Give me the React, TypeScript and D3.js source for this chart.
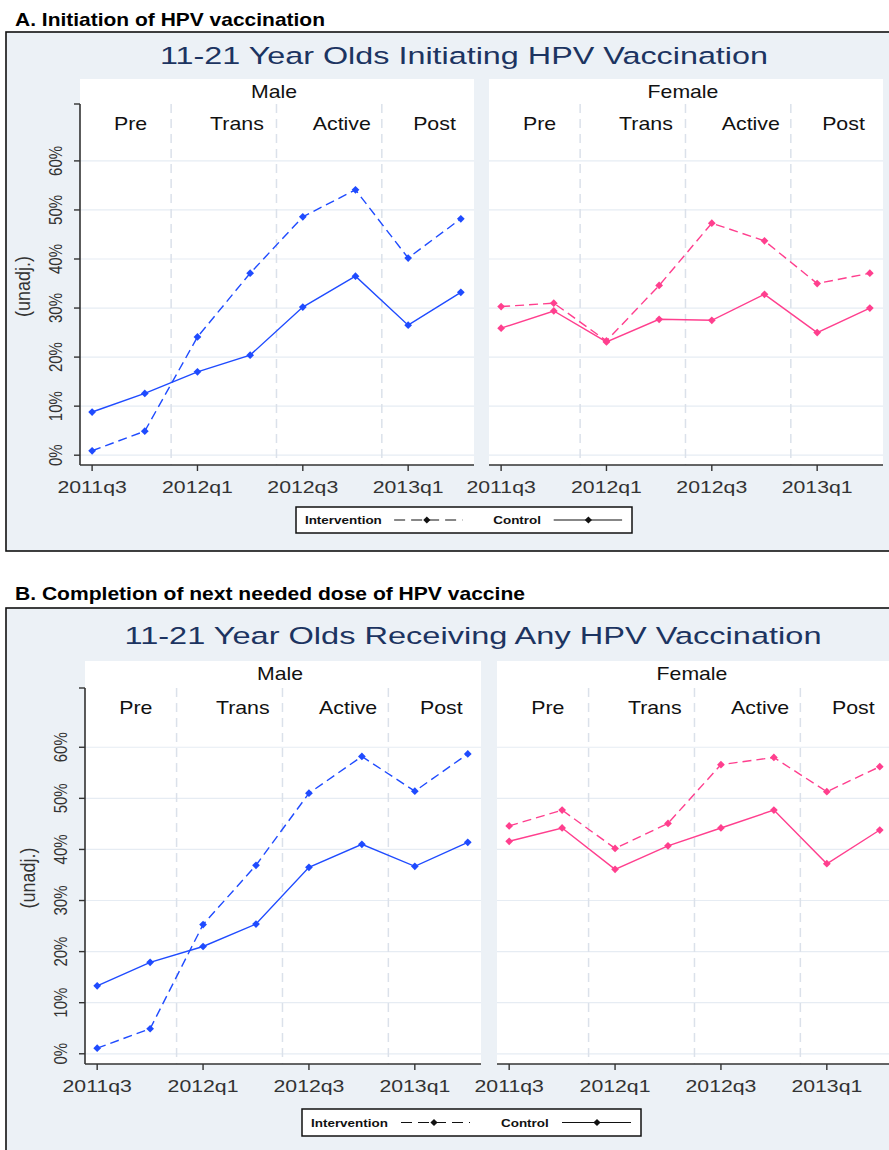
import React from "react";
import * as d3 from "d3";

// quarters on the x axis, only every second one is labelled
const quarters = ["2011q3", "2011q4", "2012q1", "2012q2", "2012q3", "2012q4", "2013q1", "2013q2"];
const tickQuarters = ["2011q3", "2012q1", "2012q3", "2013q1"];
const periods = ["Pre", "Trans", "Active", "Post"];
const periodLabelAt = [0.73, 2.75, 4.74, 6.5];
const periodBreaks = [1.5, 3.5, 5.5];
const yTicks = [0, 0.1, 0.2, 0.3, 0.4, 0.5, 0.6];

// A. initiation
const initMaleIntervention = [0.009, 0.049, 0.241, 0.371, 0.486, 0.541, 0.402, 0.482];
const initMaleControl = [0.088, 0.126, 0.170, 0.204, 0.302, 0.365, 0.265, 0.332];
const initFemaleIntervention = [0.303, 0.310, 0.233, 0.346, 0.473, 0.437, 0.350, 0.371];
const initFemaleControl = [0.259, 0.294, 0.231, 0.277, 0.275, 0.328, 0.250, 0.300];

// B. any dose
const anyMaleIntervention = [0.011, 0.049, 0.253, 0.369, 0.510, 0.582, 0.514, 0.587];
const anyMaleControl = [0.133, 0.179, 0.210, 0.254, 0.365, 0.410, 0.367, 0.414];
const anyFemaleIntervention = [0.446, 0.477, 0.402, 0.451, 0.566, 0.580, 0.513, 0.562];
const anyFemaleControl = [0.416, 0.442, 0.361, 0.407, 0.442, 0.477, 0.372, 0.438];

const FONT = "'Liberation Sans', Arial, sans-serif";
const BG = "#ecf1f6";
const GRID = "#e6ecf3";
const BLUE = "#1f4bff";
const PINK = "#ff3f8e";

// the source picture is stretched sideways, so text gets a horizontal scale
function Txt({ x, y, size, sx = 1.22, anchor = "middle", rot = 0, fill = "#111", weight = "normal", children }) {
  return (
    <text transform={`translate(${x},${y}) scale(${sx},1)${rot ? ` rotate(${rot})` : ""}`}
      textAnchor={anchor} fontSize={size} fontFamily={FONT} fontWeight={weight} fill={fill}>
      {children}
    </text>
  );
}

function Facet({ x0, x1, top, bottom, headTop, label, color, intervention, control, yAxis }) {
  const x = d3.scaleLinear().domain([-0.23, 7.25]).range([x0, x1]);
  const y = d3.scaleLinear().domain([-0.02, 0.716]).range([bottom, top]);
  const line = d3.line<number>().x((d, i) => x(i)).y(d => y(d));
  const diamond = d3.symbol(d3.symbolSquare, 30)();
  const series = [
    { values: intervention, dash: "9,5" },
    { values: control, dash: null },
  ];
  return (
    <g>
      <rect x={x0} y={headTop} width={x1 - x0} height={bottom - headTop} fill="#fff" />
      {yTicks.map(t => (
        <line key={t} x1={x0} x2={x1} y1={y(t)} y2={y(t)} stroke={GRID} strokeWidth={1.2} />
      ))}
      {periodBreaks.map(b => (
        <line key={b} x1={x(b)} x2={x(b)} y1={top} y2={bottom} stroke="#dbe1ea" strokeWidth={1.5} strokeDasharray="9,6" />
      ))}
      <Txt x={(x0 + x1) / 2 - 3} y={headTop + 19} size={18} sx={1.18}>{label}</Txt>
      {periods.map((p, i) => (
        <Txt key={p} x={x(periodLabelAt[i])} y={top + 26} size={17.5}>{p}</Txt>
      ))}
      {series.map((s, k) => (
        <g key={k}>
          <path d={line(s.values)} fill="none" stroke={color} strokeWidth={1.4} strokeDasharray={s.dash || undefined} />
          {s.values.map((v, i) => (
            <path key={i} d={diamond} transform={`translate(${x(i)},${y(v)}) rotate(45)`} fill={color} />
          ))}
        </g>
      ))}
      <line x1={x0} x2={x1} y1={bottom} y2={bottom} stroke="#333" strokeWidth={1.6} />
      {tickQuarters.map(q => {
        const xi = x(quarters.indexOf(q));
        return (
          <g key={q}>
            <line x1={xi} x2={xi} y1={bottom} y2={bottom + 6} stroke="#333" strokeWidth={1.4} />
            <Txt x={xi} y={bottom + 28} size={17} sx={1.25} fill="#333">{q}</Txt>
          </g>
        );
      })}
      {yAxis && (
        <g>
          <line x1={x0} x2={x0} y1={top} y2={bottom} stroke="#333" strokeWidth={1.6} />
          <line x1={x0 - 6} x2={x0} y1={top} y2={top} stroke="#333" strokeWidth={1.4} />
          {yTicks.map(t => (
            <g key={t}>
              <line x1={x0 - 6} x2={x0} y1={y(t)} y2={y(t)} stroke="#333" strokeWidth={1.4} />
              <Txt x={x0 - 18} y={y(t)} size={15} sx={1.25} rot={-90} fill="#333">{d3.format(".0%")(t)}</Txt>
            </g>
          ))}
          <Txt x={x0 - 50} y={(top + bottom) / 2 + 2} size={18} sx={1.1} rot={-90} fill="#333">(unadj.)</Txt>
        </g>
      )}
    </g>
  );
}

function Legend({ x0, y0, w, h }) {
  const d = d3.symbol(d3.symbolSquare, 26)();
  const k = w / 339;
  const mid = y0 + h / 2;
  return (
    <g>
      <rect x={x0} y={y0} width={w} height={h} fill="#fff" stroke="#111" strokeWidth={1.5} />
      <Txt x={x0 + 9 * k} y={mid + 4} size={11.5} sx={1.17} anchor="start" weight="bold">Intervention</Txt>
      <line x1={x0 + 99 * k} x2={x0 + 168 * k} y1={mid} y2={mid} stroke="#111" strokeWidth={1.2} strokeDasharray="11,6" />
      <path d={d} transform={`translate(${x0 + 132 * k},${mid}) rotate(45)`} fill="#111" />
      <Txt x={x0 + 199 * k} y={mid + 4} size={11.5} sx={1.17} anchor="start" weight="bold">Control</Txt>
      <line x1={x0 + 260 * k} x2={x0 + 329 * k} y1={mid} y2={mid} stroke="#111" strokeWidth={1.2} />
      <path d={d} transform={`translate(${x0 + 295 * k},${mid}) rotate(45)`} fill="#111" />
    </g>
  );
}

function Block({ heading, headingY, headingLen, boxTop, boxBottom, title, titleX, titleY, titleLen, m, f, headTop, top, bottom, data, legend }) {
  return (
    <g>
      <text x={15} y={headingY} fontFamily={FONT} fontWeight="bold" fontSize={19} fill="#000"
        textLength={headingLen} lengthAdjust="spacingAndGlyphs">{heading}</text>
      <rect x={6} y={boxTop} width={900} height={boxBottom - boxTop} fill={BG} stroke="#111" strokeWidth={1.6} />
      <text x={titleX - titleLen / 2} y={titleY} fontFamily={FONT} fontSize={24.5} fill="#1c3461"
        textLength={titleLen} lengthAdjust="spacingAndGlyphs">{title}</text>
      <Facet x0={m[0]} x1={m[1]} top={top} bottom={bottom} headTop={headTop} label="Male" color={BLUE}
        intervention={data[0]} control={data[1]} yAxis />
      <Facet x0={f[0]} x1={f[1]} top={top} bottom={bottom} headTop={headTop} label="Female" color={PINK}
        intervention={data[2]} control={data[3]} yAxis={false} />
      <Legend x0={legend[0]} y0={legend[1]} w={legend[2]} h={legend[3]} />
    </g>
  );
}

export default function App() {
  return (
    <svg width={889} height={1150} style={{ position: "absolute", left: 0, top: 0, background: "#fff" }}>
      <Block heading="A. Initiation of HPV vaccination" headingY={26} headingLen={310} boxTop={32} boxBottom={551}
        title="11-21 Year Olds Initiating HPV Vaccination" titleX={464} titleY={64} titleLen={608}
        m={[80, 474]} f={[489, 883]} headTop={79} top={104} bottom={465}
        data={[initMaleIntervention, initMaleControl, initFemaleIntervention, initFemaleControl]}
        legend={[296, 507, 336, 26]} />
      <Block heading="B. Completion of next needed dose of HPV vaccine" headingY={600} headingLen={510} boxTop={608} boxBottom={1200}
        title="11-21 Year Olds Receiving Any HPV Vaccination" titleX={473} titleY={644} titleLen={697}
        m={[85, 481]} f={[497, 893]} headTop={661} top={688} bottom={1064}
        data={[anyMaleIntervention, anyMaleControl, anyFemaleIntervention, anyFemaleControl]}
        legend={[302, 1109, 339, 27]} />
    </svg>
  );
}
